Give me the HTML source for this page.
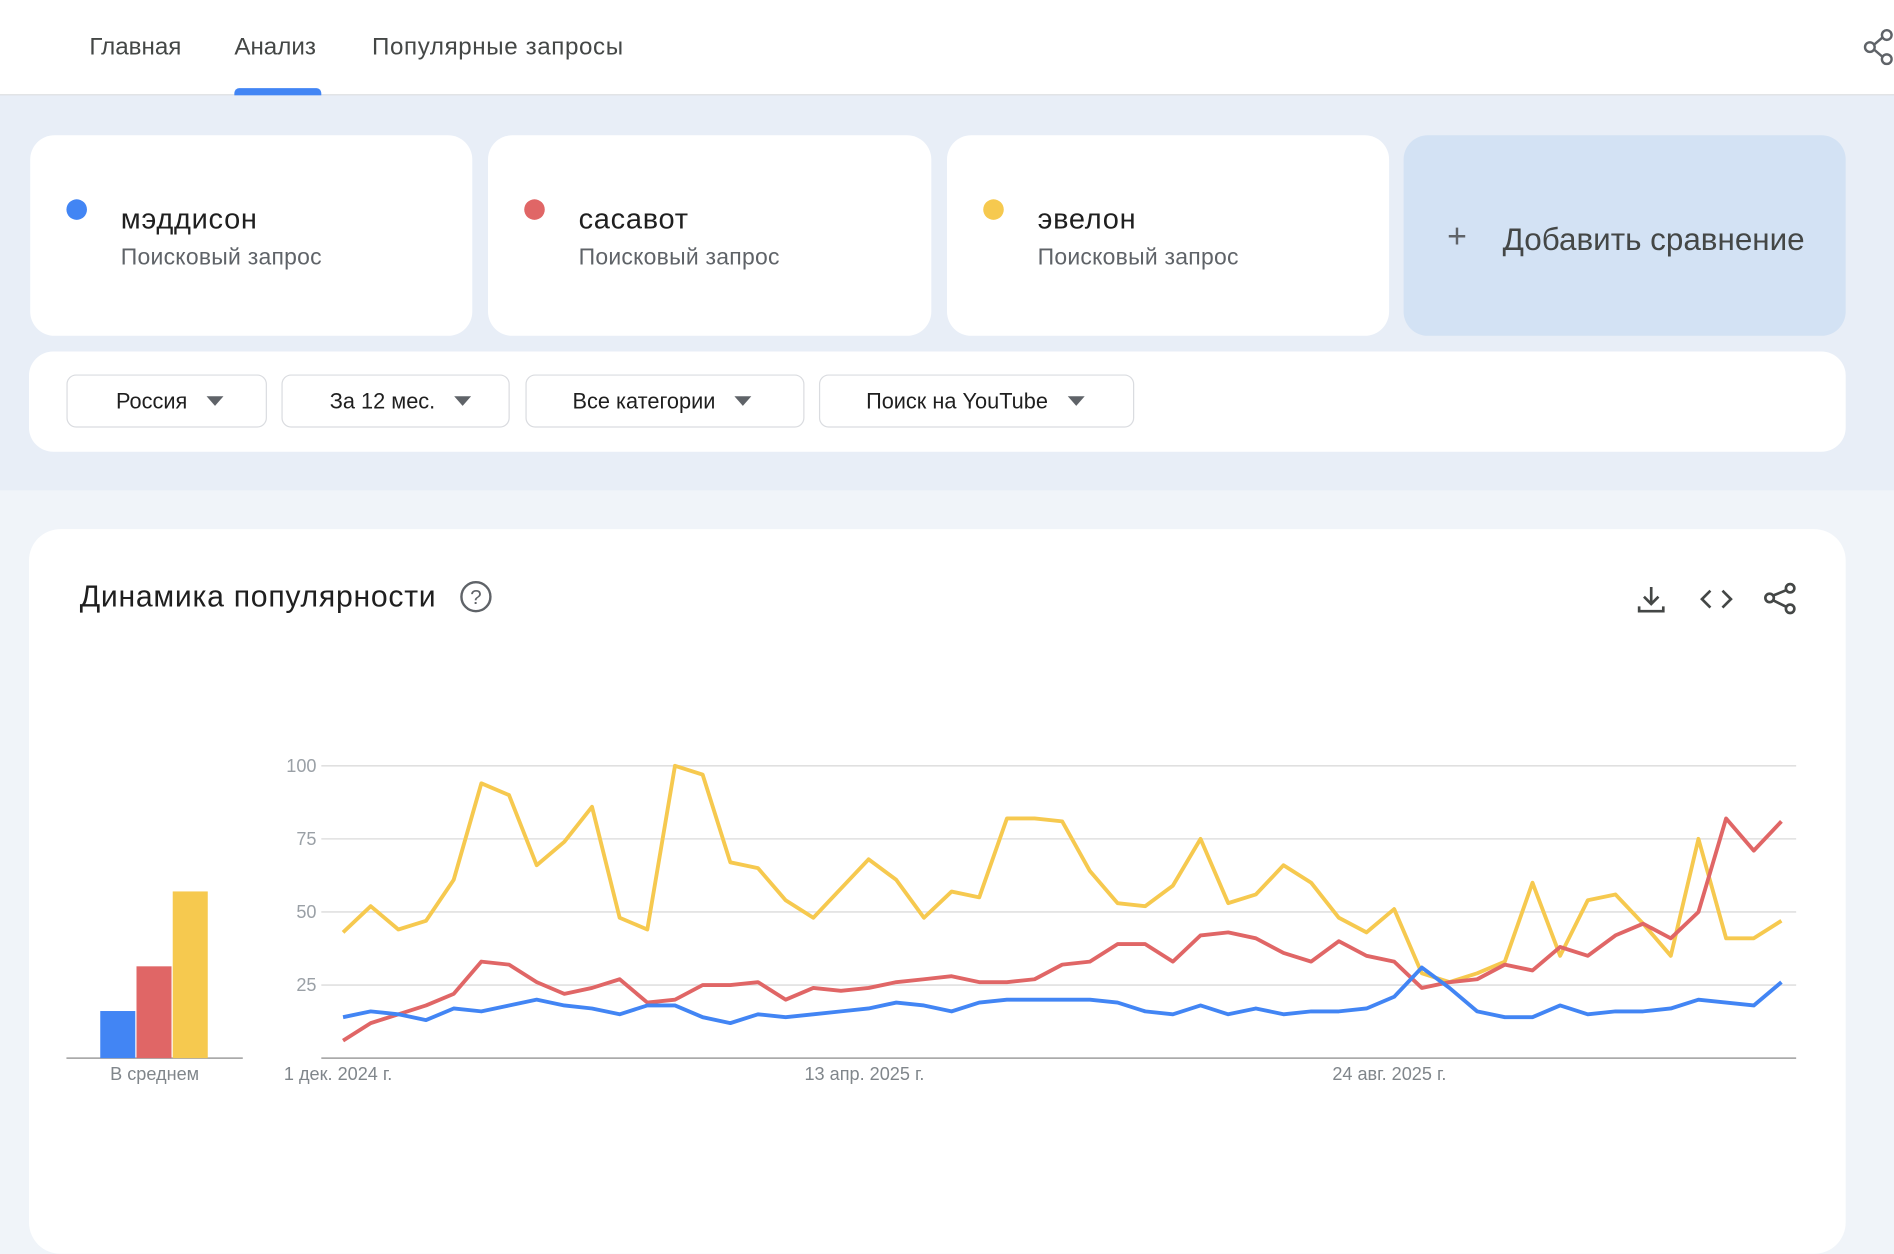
<!DOCTYPE html>
<html><head><meta charset="utf-8">
<style>
html,body{margin:0;padding:0;width:1894px;height:1182px;overflow:hidden;background:#f0f4f9}
#w{position:absolute;left:0;top:0;width:1568px;height:979px;transform:scale(1.20791);transform-origin:0 0;font-family:"Liberation Sans","Noto Sans CJK SC",sans-serif;background:#f0f4f9}
.abs{position:absolute}
.hdr{left:0;top:0;width:1568px;height:78px;background:#fff;border-bottom:1px solid #dadce0}
.tab{top:28px;font-size:20px;color:#444746}
.band{left:0;top:79px;width:1568px;height:327px;background:#e8eef7}
.card{background:#fff;border-radius:20px;top:112px;height:166px;width:366px}
.dot{width:17px;height:17px;border-radius:50%;left:30px;top:53px}
.nm{left:75px;top:56px;font-size:24px;letter-spacing:0.6px;color:#1f1f1f}
.sub{left:75px;top:91px;font-size:19px;letter-spacing:0.2px;color:#5f6368}
.dd{top:310px;height:44px;border:1px solid #dadce0;border-radius:8px;background:#fff;font-size:18px;color:#1f1f1f;box-sizing:border-box;line-height:42px}
.tri{display:inline-block;width:0;height:0;border-left:7px solid transparent;border-right:7px solid transparent;border-top:8px solid #5f6368;margin-left:16px;vertical-align:2px}
</style></head><body><div id="w">
<div class="abs hdr"></div>
<div class="abs tab" style="left:74px">Главная</div>
<div class="abs tab" style="left:194px">Анализ</div>
<div class="abs tab" style="left:308px;letter-spacing:0.5px">Популярные запросы</div>
<div class="abs" style="left:194px;top:73px;width:72px;height:6px;background:#4285f4;border-radius:4px 4px 0 0"></div>
<svg class="abs" style="left:1540px;top:24px" width="30" height="30" viewBox="0 0 30 30"><g stroke="#5f6368" stroke-width="2" fill="none"><circle cx="22" cy="5" r="4"/><circle cx="8" cy="15" r="4"/><circle cx="22" cy="25" r="4"/><path d="M11.5 13 L18.5 7 M11.5 17 L18.5 23"/></g></svg>
<div class="abs band"></div>
<div class="abs card" style="left:25px"><div class="abs dot" style="background:#4285f4"></div><div class="abs nm">мэддисон</div><div class="abs sub">Поисковый запрос</div></div>
<div class="abs card" style="left:404px;width:367px"><div class="abs dot" style="background:#e06666"></div><div class="abs nm">сасавот</div><div class="abs sub">Поисковый запрос</div></div>
<div class="abs card" style="left:784px"><div class="abs dot" style="background:#f6c94f"></div><div class="abs nm">эвелон</div><div class="abs sub">Поисковый запрос</div></div>
<div class="abs card" style="left:1162px;background:#d3e2f4"><div class="abs" style="left:36px;top:68px;font-size:28px;color:#5f6368">+</div><div class="abs" style="left:82px;top:71px;font-size:26px;color:#444746">Добавить сравнение</div></div>
<div class="abs" style="left:24px;top:291px;width:1504px;height:83px;background:#fff;border-radius:20px"></div>
<div class="abs dd" style="left:55px;width:166px;padding-left:40px">Россия<span class="tri"></span></div>
<div class="abs dd" style="left:233px;width:189px;padding-left:39px">За 12 мес.<span class="tri"></span></div>
<div class="abs dd" style="left:435px;width:231px;padding-left:38px">Все категории<span class="tri"></span></div>
<div class="abs dd" style="left:678px;width:261px;padding-left:38px">Поиск на YouTube<span class="tri"></span></div>
<div class="abs" style="left:24px;top:438px;width:1504px;height:600px;background:#fff;border-radius:26px"></div>
<div class="abs" style="left:66px;top:480px;font-size:25px;letter-spacing:0.6px;color:#1f1f1f">Динамика популярности</div>
<svg class="abs" style="left:380px;top:480px" width="28" height="28"><circle cx="14" cy="14" r="12" fill="none" stroke="#5f6368" stroke-width="2"/><text x="14" y="20" text-anchor="middle" font-size="17" fill="#5f6368" font-family="Liberation Sans">?</text></svg>
<svg class="abs" style="left:1354px;top:482px" width="140" height="28" fill="none" stroke="#444746" stroke-width="2.2">
<path d="M13 4 V18 M7 12 L13 18 L19 12 M3 20 V24 H23 V20"/>
<path d="M62 7 L55 14 L62 21 M72 7 L79 14 L72 21"/>
<circle cx="128" cy="5" r="3.5"/><circle cx="111" cy="13" r="3.5"/><circle cx="128" cy="22" r="3.5"/><path d="M114 11 L125 6.5 M114 15 L125 20.5"/>
</svg>
<svg class="abs" style="left:0;top:600px" width="1568" height="320" id="ch" font-family="Liberation Sans" font-size="15" fill="#80868b"></svg>
</div>
<script>
var Y=[43,52,44,47,61,94,90,66,74,86,48,44,100,97,67,65,54,48,58,68,61,48,57,55,82,82,81,64,53,52,59,75,53,56,66,60,48,43,51,29,26,29,33,60,35,54,56,46,35,75,41,41,47];
var R=[6,12,15,18,22,33,32,26,22,24,27,19,20,25,25,26,20,24,23,24,26,27,28,26,26,27,32,33,39,39,33,42,43,41,36,33,40,35,33,24,26,27,32,30,38,35,42,46,41,50,82,71,81];
var B=[14,16,15,13,17,16,18,20,18,17,15,18,18,14,12,15,14,15,16,17,19,18,16,19,20,20,20,20,19,16,15,18,15,17,15,16,16,17,21,31,24,16,14,14,18,15,16,16,17,20,19,18,26];
var o=600,s='';
function yy(v){return 876-o-v*2.42}
[100,75,50,25].forEach(function(v){var y=yy(v);s+='<line x1="266" x2="1487" y1="'+y+'" y2="'+y+'" stroke="#e0e0e0" stroke-width="1.3"/><text x="262" y="'+(y+5)+'" text-anchor="end" fill="#9aa0a6">'+v+'</text>';});
s+='<line x1="266" x2="1487" y1="'+yy(0)+'" y2="'+yy(0)+'" stroke="#9e9e9e" stroke-width="1.3"/>';
s+='<line x1="55" x2="201" y1="'+yy(0)+'" y2="'+yy(0)+'" stroke="#9e9e9e" stroke-width="1.3"/>';
s+='<rect x="83" y="'+(837-o)+'" width="29" height="39" fill="#4285f4"/><rect x="113" y="'+(800-o)+'" width="29" height="76" fill="#e06666"/><rect x="143" y="'+(738-o)+'" width="29" height="138" fill="#f6c94f"/>';
s+='<text x="128" y="'+(894-o)+'" text-anchor="middle" fill="#80868b">В среднем</text>';
s+='<text x="235" y="'+(894-o)+'">1 дек. 2024 г.</text><text x="666" y="'+(894-o)+'">13 апр. 2025 г.</text><text x="1103" y="'+(894-o)+'">24 авг. 2025 г.</text>';
function pl(a,c){return '<polyline fill="none" stroke="'+c+'" stroke-width="3.2" stroke-linejoin="round" points="'+a.map(function(v,i){return (284+i*22.9).toFixed(1)+','+yy(v).toFixed(1)}).join(' ')+'"/>';}
s+=pl(Y,'#f6c94f')+pl(R,'#e06666')+pl(B,'#4285f4');
document.getElementById('ch').innerHTML=s;
</script>
</body></html>
